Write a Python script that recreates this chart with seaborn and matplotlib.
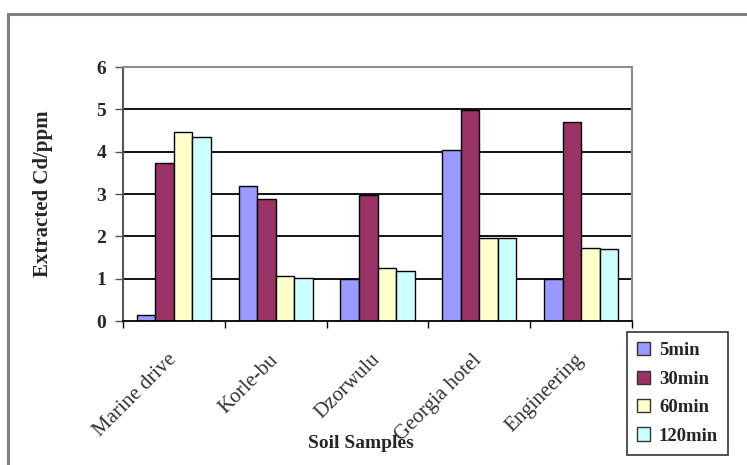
import matplotlib
matplotlib.use("Agg")
import matplotlib.pyplot as plt
from matplotlib.patches import Rectangle, Patch
import matplotlib.transforms as mtransforms
import numpy as np
import pandas as pd
import seaborn as sns

samples = ["Marine drive", "Korle-bu", "Dzorwulu", "Georgia hotel", "Engineering"]
times = ["5min", "30min", "60min", "120min"]
cd_5min = [0.13, 3.19, 1.00, 4.05, 1.00]
cd_30min = [3.73, 2.88, 2.97, 4.98, 4.69]
cd_60min = [4.46, 1.06, 1.25, 1.96, 1.73]
cd_120min = [4.34, 1.01, 1.17, 1.96, 1.70]
colors = ["#9999FF", "#993366", "#FFFFCC", "#CCFFFF"]
yticks = [0, 1, 2, 3, 4, 5, 6]

series = [cd_5min, cd_30min, cd_60min, cd_120min]
df = pd.DataFrame({
    "Sample": np.repeat([samples], len(times), axis=0).ravel(),
    "Time": np.repeat(times, len(samples)),
    "Cd": np.concatenate(series),
})

sns.set_theme(style="white")
plt.rcParams["font.family"] = ["Liberation Serif", "DejaVu Serif"]

fig = plt.figure(figsize=(7.47, 4.65), dpi=100)
W, H = 747, 465
ax = fig.add_axes([123 / W, 1 - 321 / H, (632 - 123) / W, (321 - 67) / H])

sns.barplot(data=df, x="Sample", y="Cd", hue="Time", order=samples,
            hue_order=times, palette=colors, width=0.73, edgecolor="black",
            linewidth=1.0, saturation=1, errorbar=None, legend=False, ax=ax)

ax.set_ylim(0, 6)
ax.set_xlim(-0.5, len(samples) - 0.5)
ax.set_yticks(yticks)
ax.set_yticklabels([str(v) for v in yticks], fontweight="bold", fontsize=14)
for v in yticks[1:-1]:
    ax.axhline(v, color="black", lw=1.3, zorder=0)

# category boundary ticks; labels sit at category centres
ax.set_xticks(np.arange(-0.5, len(samples), 1.0))
ax.set_xticklabels([])
ax.set_xticks(np.arange(len(samples)), minor=True)
ax.set_xticklabels(samples, minor=True, rotation=45, ha="right", va="center",
                   rotation_mode="anchor", fontsize=15, color="#333333")
shift = mtransforms.ScaledTranslation(-11 / 100, 0, fig.dpi_scale_trans)
for lbl in ax.get_xticklabels(minor=True):
    lbl.set_transform(lbl.get_transform() + shift)
ax.tick_params(axis="x", which="major", length=5, width=1, color="black",
               direction="out", bottom=True)
ax.tick_params(axis="x", which="minor", length=0, pad=26)
ax.tick_params(axis="y", length=6, width=1, color="#555555", direction="out",
               left=True, pad=6)

for side in ["top", "right"]:
    ax.spines[side].set_color("#8c8c8c")
    ax.spines[side].set_linewidth(1.5)
ax.spines["left"].set_color("#555555")
ax.spines["left"].set_linewidth(1.5)
ax.spines["bottom"].set_color("black")
ax.spines["bottom"].set_linewidth(1.3)

ax.set_xlabel("Soil Samples", fontweight="bold", fontsize=14)
ax.xaxis.set_label_coords((361 - 123) / (632 - 123), (321 - 435) / (321 - 67))
ax.set_ylabel("Extracted Cd/ppm", fontweight="bold", fontsize=15)
ax.yaxis.set_label_coords((53 - 123) / (632 - 123), 0.5)

handles = [Patch(facecolor=c, edgecolor="#333333", linewidth=1) for c in colors]
leg = fig.legend(handles, times, loc="upper left",
                 bbox_to_anchor=(627 / W, 1 - 332 / H),
                 prop={"weight": "bold", "size": 13.5},
                 handlelength=0.7, handleheight=0.7, handletextpad=0.45,
                 labelspacing=0.6, borderpad=0.55, borderaxespad=0,
                 fancybox=False, framealpha=1, edgecolor="#333333")
leg.get_frame().set_linewidth(1.2)

fig.patches.append(Rectangle((8 / W, -0.2), 1.0, (H - 14) / H + 0.2,
                             transform=fig.transFigure, fill=False,
                             edgecolor="#808080", linewidth=2.2))

fig.savefig("out.png", dpi=100, facecolor="white")
